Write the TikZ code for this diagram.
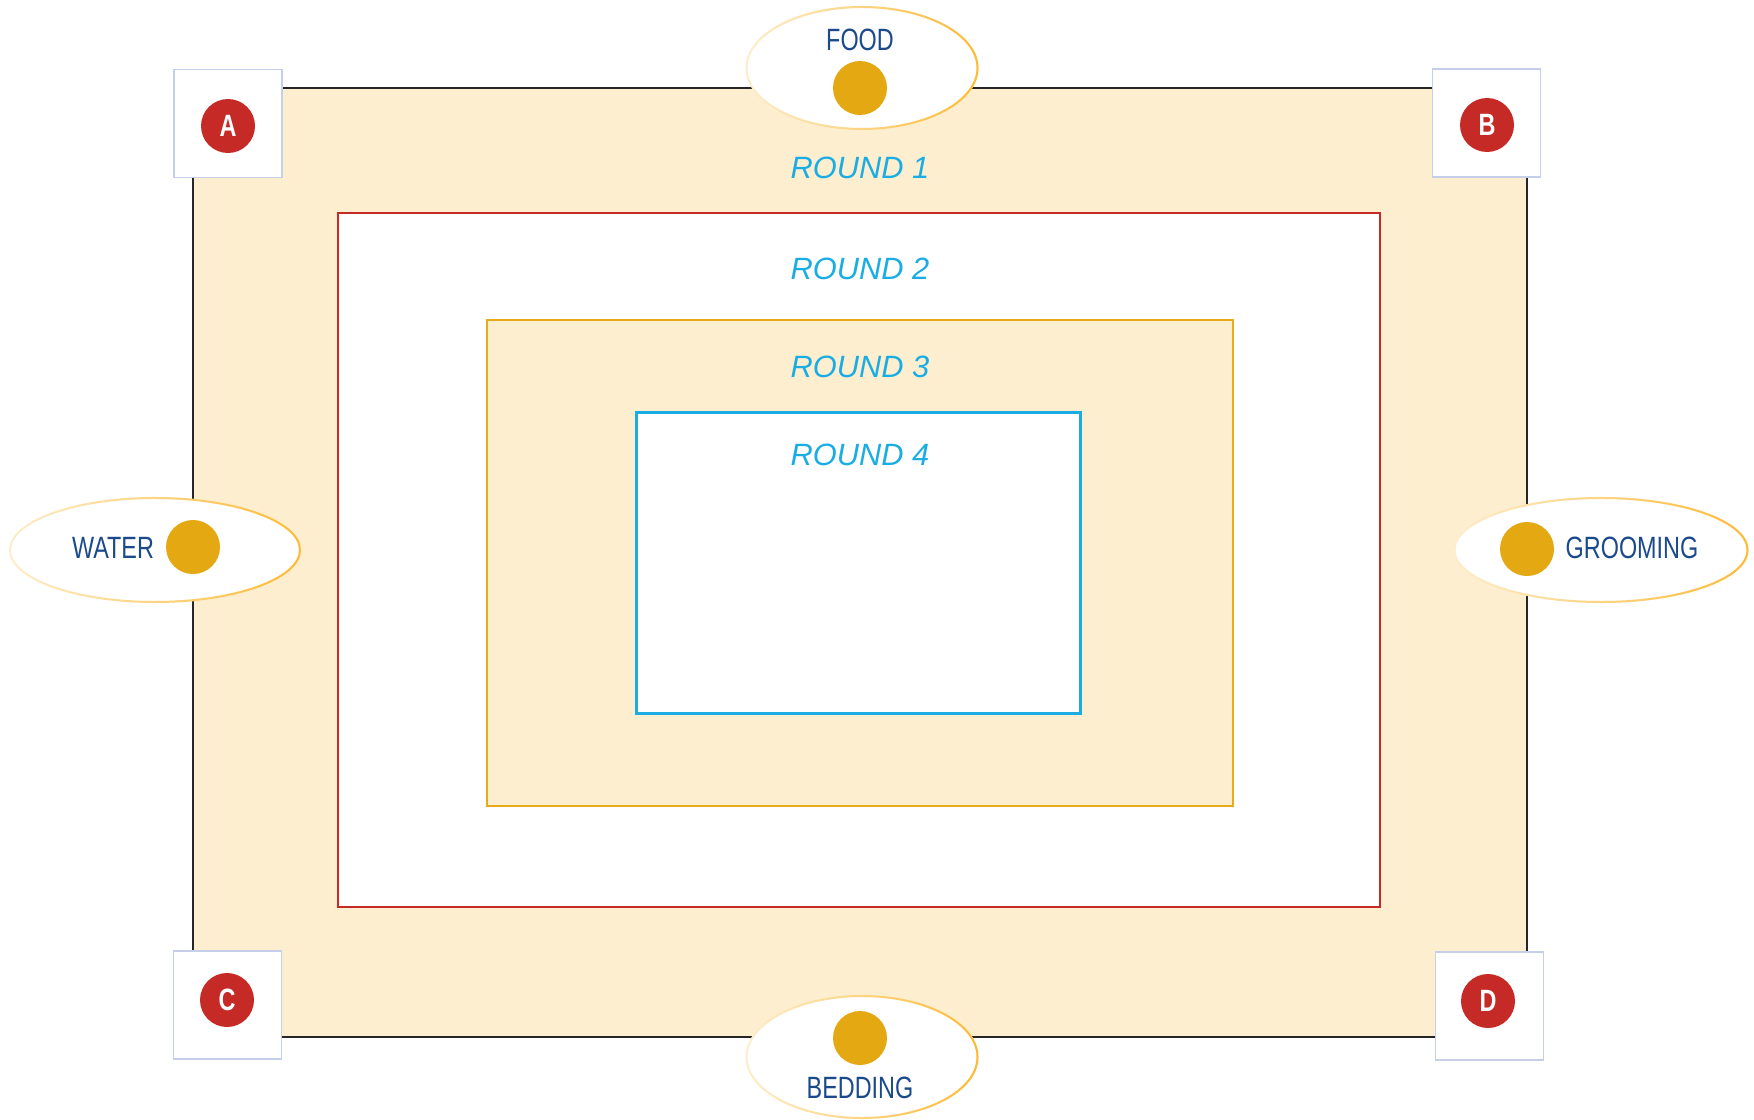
\documentclass[tikz,border=0pt]{standalone}
\usepackage{fontspec}
\setmainfont{Liberation Sans}
\newfontfamily\condfont[FakeStretch=0.76]{Liberation Sans}
\usepackage{xcolor}
\definecolor{cBeige}{HTML}{FDEED0}
\definecolor{cRed}{HTML}{C62A27}
\definecolor{cGold}{HTML}{E3A812}
\definecolor{cOrange}{HTML}{E9AA1A}
\definecolor{cCyan}{HTML}{1AADE4}
\definecolor{cNavy}{HTML}{1B4A8C}
\definecolor{cHalo}{HTML}{FDBA35}
\definecolor{cFrame}{HTML}{C5CFEA}
\usetikzlibrary{positioning,shapes.geometric,fadings}
\tikzset{
  ring/.style={rectangle,inner sep=0pt,line width=1.1pt},
  ring-label/.style={font=\fontsize{15.4}{18}\selectfont\itshape,text=cCyan,inner sep=0pt},
  corner-box/.style={draw=cFrame,fill=white,line width=0.6pt,minimum size=54pt,inner sep=0pt},
  corner-dot/.style={circle,fill=cRed,minimum size=27pt,inner sep=0pt,text=white,
    font=\condfont\fontsize{15.4}{18}\selectfont\bfseries},
  halo/.style={ellipse,fill=white,inner sep=0pt},
  halo-line/.style={line width=1pt},
  need-dot/.style={circle,fill=cGold,minimum size=27pt,inner sep=0pt},
  need-label/.style={font=\condfont\fontsize{15.4}{18}\selectfont,text=cNavy,inner sep=0pt},
}

\begin{document}
\begin{tikzpicture}[x=0.5pt,y=-0.5pt]
  \useasboundingbox (0,0) rectangle (1754,1119);
  % rounds, outside in
  \node[ring,draw=black!85,fill=cBeige,minimum width=666.75pt,minimum height=474.5pt] (r1) at (860,562.5) {};
  \node[ring,draw=cRed,fill=white,minimum width=521pt,minimum height=347.25pt] (r2) at (859,560) {};
  \node[ring,draw=cOrange,fill=cBeige,minimum width=373pt,minimum height=243.25pt] (r3) at (859.6,563) {};
  \node[ring,draw=cCyan,fill=white,minimum width=222pt,minimum height=150.5pt] (r4) at (858.5,563) {};
  \node[ring-label] (t1) at (860,168) {ROUND 1};
  \node[ring-label] (t2) at (860,268.5) {ROUND 2};
  \node[ring-label] (t3) at (860,367) {ROUND 3};
  \node[ring-label] (t4) at (860,455) {ROUND 4};
  % corners
  \node[corner-box] (boxA) at (228,123.5) {};
  \node[corner-box] (boxB) at (1486.5,123) {};
  \node[corner-box] (boxC) at (227.5,1005) {};
  \node[corner-box] (boxD) at (1489.5,1006) {};
  \node[corner-dot] (A) at (228,126) {A};
  \node[corner-dot] (B) at (1487,125) {B};
  \node[corner-dot] (C) at (227,1000) {C};
  \node[corner-dot] (D) at (1488,1001) {D};
  % needs
  \node[halo,minimum width=115.5pt,minimum height=61pt] (food) at (862,68) {};
  \node[halo,minimum width=115.5pt,minimum height=61pt] (bedding) at (862,1057) {};
  \node[halo,minimum width=145pt,minimum height=52pt] (water) at (155,550) {};
  \node[halo,minimum width=146.5pt,minimum height=52pt] (grooming) at (1601,550) {};
  \foreach \n/\rx/\ry in {food/57.75/30.5,bedding/57.75/30.5,water/72.5/26,grooming/73.25/26}{
    \draw[halo-line,cHalo!25] (\n.center) ellipse [x radius=\rx pt,y radius=\ry pt];
    \draw[halo-line,cHalo,path fading=west] (\n.center) ellipse [x radius=\rx pt,y radius=\ry pt];
  }
  \node[need-dot] (foodDot) at (860,88) {};
  \node[need-label] at (860,40) {FOOD};
  \node[need-dot] (beddingDot) at (860,1038) {};
  \node[need-label] at (860,1088) {BEDDING};
  \node[need-dot] (waterDot) at (193,547) {};
  \node[need-label] at (113,548) {WATER};
  \node[need-dot] (groomingDot) at (1527,549) {};
  \node[need-label] at (1632,548) {GROOMING};
\end{tikzpicture}
\end{document}
